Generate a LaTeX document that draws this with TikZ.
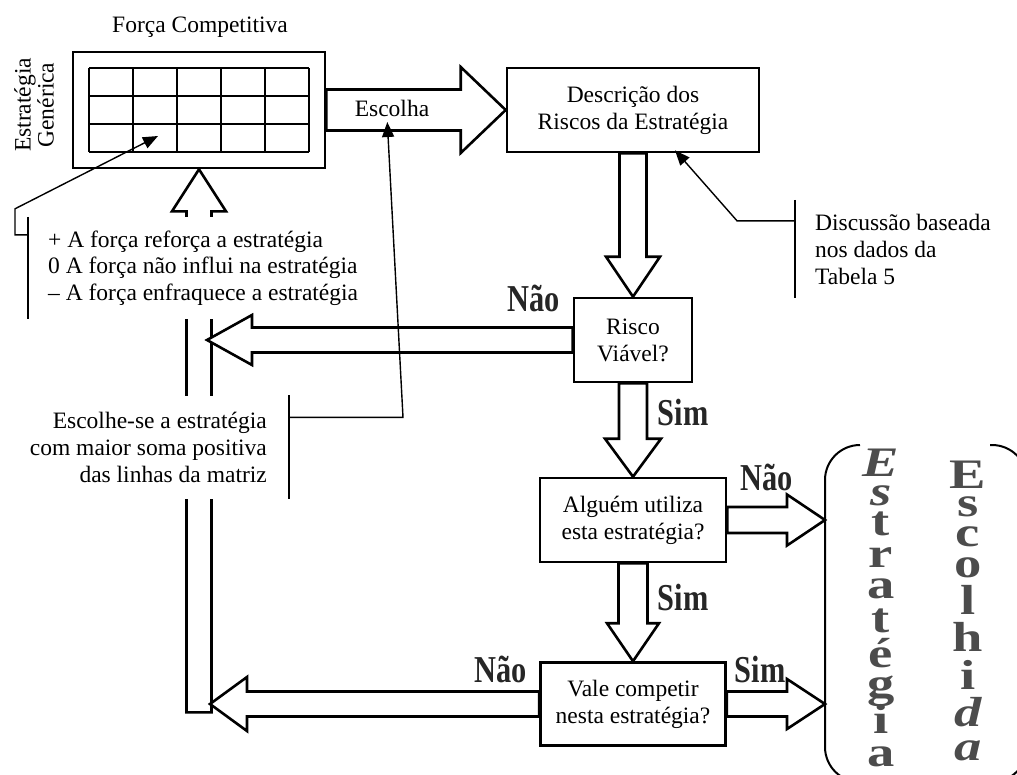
\documentclass[tikz,border=0pt]{standalone}
\usepackage{fontspec}
\setmainfont{Liberation Serif}
\usetikzlibrary{calc,arrows.meta}

% hollow block arrow: start, tip, shaft half-width, head half-width, head length
\newcommand\hollowarrow[5]{%
  \coordinate (hh) at ($(#2)!#5!(#1)$);
  \draw[hollow] ($(#1)!#3!90:(#2)$) -- ($(hh)!#3!90:(#2)$) -- ($(hh)!#4!90:(#2)$)
    -- (#2) -- ($(hh)!#4!-90:(#2)$) -- ($(hh)!#3!-90:(#2)$) -- ($(#1)!#3!-90:(#2)$) -- cycle;}

\begin{document}
\begin{tikzpicture}[x=1pt,y=-1pt,
  txt/.style={font=\fontsize{23.5}{27}\selectfont, inner sep=0pt},
  box/.style={draw, line width=2.6pt, fill=white, align=center,
    font=\fontsize{23.5}{27}\selectfont, inner sep=0pt},
  hollow/.style={draw, fill=white, line width=2.6pt, line join=miter},
  gridline/.style={line width=1.8pt},
  thinline/.style={line width=1.4pt},
  pointer/.style={thinline, -{Triangle[length=15pt,width=12pt]}},
  yesno/.style={font=\fontsize{38}{38}\selectfont\bfseries, text=black!85, inner sep=0pt},
  wordart/.style={font=\fontsize{42}{42}\selectfont\bfseries, text=black!70, inner sep=0pt, anchor=base}
]
\useasboundingbox (0,0) rectangle (1017,774);
\clip (0,0) rectangle (1017,774);

% competitive-force matrix
\node[txt] (title) at (200,27) {Força Competitiva};
\node[txt, rotate=90, align=center, font=\fontsize{23.5}{23}\selectfont] (gen) at (34,105) {Estratégia\\Genérica};
\node[draw, line width=2.6pt, fill=white, minimum width=252pt, minimum height=116pt, inner sep=0pt] (mat) at (199,110) {};
\foreach \i in {0,...,5}
  \draw[gridline] ($(mat.center)+(-110+44*\i,-42)$) -- ($(mat.center)+(-110+44*\i,42)$);
\foreach \j in {0,...,3}
  \draw[gridline] ($(mat.center)+(-110,-42+28*\j)$) -- ($(mat.center)+(110,-42+28*\j)$);

% decision boxes
\node[box, minimum width=252pt, minimum height=84pt] (desc) at (633,110) {Descrição dos\\Riscos da Estratégia};
\node[box, minimum width=118pt, minimum height=84pt] (risco) at (633,340) {Risco\\Viável?};
\node[box, minimum width=186pt, minimum height=84pt] (algu) at (633,520) {Alguém utiliza\\esta estratégia?};
\node[box, minimum width=185pt, minimum height=83pt] (vale) at (633,704) {Vale competir\\nesta estratégia?};

% return channel up to the matrix
\coordinate (chanbot) at ($(mat.south)+(0,543)$);
\hollowarrow{chanbot}{mat.south}{12.5pt}{27pt}{42pt}

% text blocks over the channel
\node[txt, fill=white, anchor=west, align=left, minimum height=102pt, inner xsep=20pt,
  font=\fontsize{23.5}{26.5}\selectfont] (legend) at (28,268)
  {+ A força reforça a estratégia\\0 A força não influi na estratégia\\– A força enfraquece a estratégia};
\node[txt, fill=white, anchor=east, align=right, minimum height=103pt, inner xsep=22pt] (esc) at (289,447)
  {Escolhe-se a estratégia\\com maior soma positiva\\das linhas da matriz};
\node[txt, anchor=west, align=left, minimum height=98pt, inner xsep=20pt] (disc) at (795,249)
  {Discussão baseada\\nos dados da\\Tabela 5};

% flow arrows
\hollowarrow{mat.east}{desc.west}{20.5pt}{43pt}{45pt}
\node[txt] (escolha) at (392,108) {Escolha};
\hollowarrow{desc.south}{risco.north}{13.5pt}{27pt}{40pt}
\hollowarrow{risco.south}{algu.north}{14pt}{28pt}{38pt}
\hollowarrow{algu.south}{vale.north}{14.5pt}{26pt}{38pt}
\coordinate (chanA) at (207,340);
\coordinate (chanB) at (210,704);
\hollowarrow{risco.west}{chanA}{12.5pt}{25pt}{45pt}
\hollowarrow{vale.west}{chanB}{12.5pt}{27pt}{37pt}
\coordinate (brA) at (825,520);
\coordinate (brB) at (825,704);
\hollowarrow{algu.east}{brA}{13pt}{25.5pt}{38pt}
\hollowarrow{vale.east}{brB}{12.5pt}{25pt}{38pt}

% answer labels
\node[yesno] (nao1) at (534,298) {\scalebox{0.8}[1]{Não}};
\node[yesno] (sim1) at (683,412) {\scalebox{0.8}[1]{Sim}};
\node[yesno] (nao2) at (767,477) {\scalebox{0.8}[1]{Não}};
\node[yesno] (sim2) at (683,597) {\scalebox{0.8}[1]{Sim}};
\node[yesno] (nao3) at (501,669) {\scalebox{0.8}[1]{Não}};
\node[yesno] (sim3) at (760,669) {\scalebox{0.8}[1]{Sim}};

% callouts
\draw[thinline] (legend.north west) -- (legend.south west);
\coordinate (cell) at ($(mat.center)+(-41,26)$);
\draw[pointer] ($(legend.north west)+(0,18)$) -- ++(-13,0) -- ++(0,-26) -- (cell);
\draw[thinline] (disc.north west) -- (disc.south west);
\draw[pointer] ($(disc.north west)+(0,21)$) -- ++(-58,0) -- ($(desc.south)+(42,-3)$);
\draw[thinline] (esc.north east) -- (esc.south east);
\coordinate (escpt) at ($(mat.east)+(61,12)$);
\draw[pointer] ($(esc.north east)+(0,22)$) -- ++(114,0) -- (escpt);

% chosen-strategy bracket
\draw[line width=2pt, rounded corners=35pt] (860,445) -- (825,445) -- (825,782) -- (860,782);
\draw[line width=2pt, rounded corners=35pt] (990,445) -- (1027,445) -- (1027,782) -- (990,782);
\foreach \ch/\yy [count=\k] in {{\itshape E}/476, {\itshape s}/505, t/535, r/567, a/598, t/632, é/667, g/697, i/733, a/766}
  \node[wordart] (wl\k) at (881,\yy) {\scalebox{1.3}[1]{\ch}};
\foreach \ch/\yy [count=\k] in {E/488, s/516, c/546, o/577, l/614, h/651, i/689, {\itshape d}/726, {\itshape a}/760}
  \node[wordart] (wr\k) at (968,\yy) {\scalebox{1.3}[1]{\ch}};
\end{tikzpicture}
\end{document}
